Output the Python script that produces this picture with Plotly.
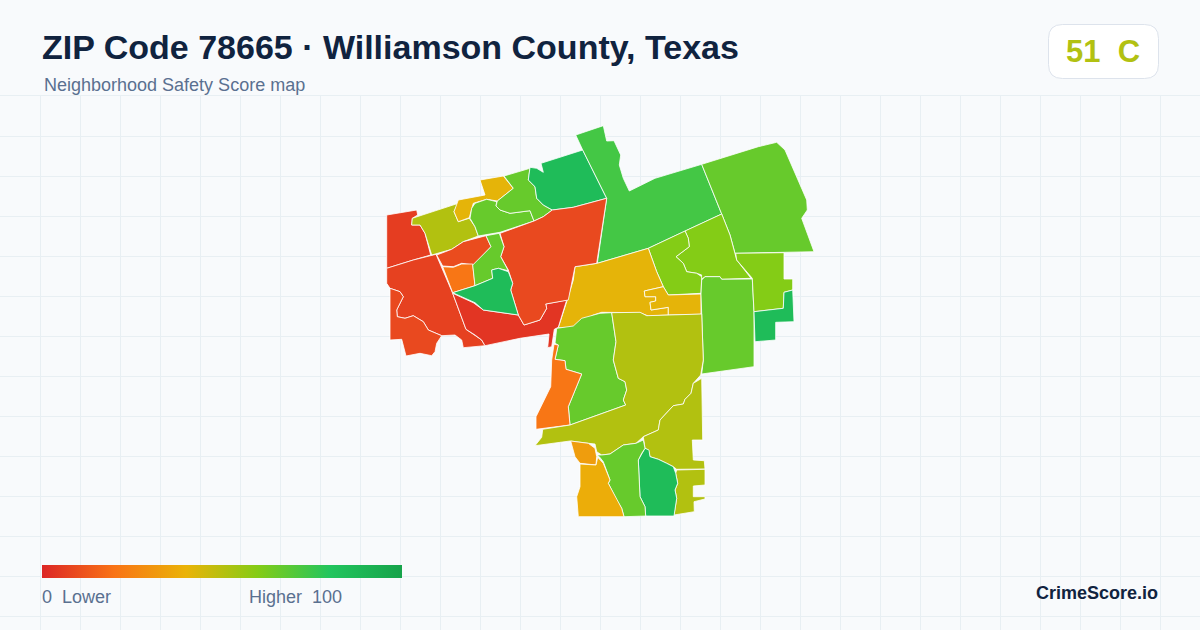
import plotly.graph_objects as go

W, H = 1200, 630
BG = "#f8fafc"
GRID = "#e8eff3"
INK = "#10233f"
MUTED = "#5a7090"

TITLE = "ZIP Code 78665 · Williamson County, Texas"
SUBTITLE = "Neighborhood Safety Score map"
BADGE_SCORE = "51  C"
BRAND = "CrimeScore.io"
LEGEND_LOW = "0  Lower"
LEGEND_HIGH = "Higher  100"

SCALE_STOPS = [0, 0.2, 0.4, 0.6, 0.8, 1]
SCALE_COLORS = ["#dc2626", "#f97316", "#eab308", "#84cc16", "#22c55e", "#16a34a"]

# Neighbourhood outlines (map units) and safety scores
NW_TOP = [(386.7,215),(416.7,210),(417.7,215),(412.3,218.3),(411.7,225),(420,225),(425,233.3),(430.7,255),(413.3,260),(386.7,268.3)]
W_MID = [(386.7,268.3),(413.3,260),(436,254.3),(452.7,293.3),(466,329.3),(475,335),(481.7,340),(485,345.7),(463.3,347.7),(461.7,340),(455,335),(441.7,335.7),(428.3,330),(423.3,321.7),(413.3,315.7),(405,318.3),(397.3,316.7),(396.7,310),(403.3,296.7),(400,291.7),(390,288.3),(386.7,283.3)]
W_LOW = [(390,288.3),(400,291.7),(403.3,296.7),(396.7,310),(397.3,316.7),(405,318.3),(413.3,315.7),(423.3,321.7),(428.3,330),(441.7,335.7),(436.7,343.3),(435,351.7),(431.7,355.7),(420,353.3),(406,356),(401.7,339.3),(390,340)]
NW_OLIVE = [(412.3,218.3),(458.3,203.3),(454,211.7),(458.3,221.7),(469.3,218.3),(475,226.7),(478.3,236),(463.3,241.7),(451.7,249.3),(431.7,255),(425,233.3),(420,225),(411.7,225)]
N_AMBER = [(480,180),(503.3,176),(513.3,188.3),(497.3,201),(486.7,199.3),(473.3,203.3),(469.3,217.7),(458.3,221.7),(454,211.7),(458.3,200),(485,195)]
N_LIME_A = [(475,203.3),(486.7,199.3),(496.7,201.7),(496,206),(500,210),(510,213.3),(530,210.7),(534,221),(500,232.3),(478.3,236),(475,226.7),(470,218.3),(471.7,208.3)]
N_LIME_B = [(504,176),(530,168.3),(528.3,180),(535,186.7),(536.7,198.3),(543.3,205),(552.3,210),(543.3,216.7),(534,221),(530,210.7),(510,213.3),(500,210),(496,206),(497.3,201),(513.3,188.3)]
N_GREEN = [(530,167.3),(536.7,168.3),(543.3,172.3),(541,163.3),(582.7,150),(606.7,198.3),(573.3,207.3),(552.3,210),(543.3,205),(536.7,198.3),(535,186.7),(528.3,180)]
N_BIG = [(575.7,135),(603.3,125.7),(606.7,141),(614,140.7),(620.7,155),(619.3,165),(623.3,178.3),(629.3,191),(655,178.3),(701.7,164.3),(721.7,214),(685,231),(648.3,248.3),(597.3,263.3),(606.7,198.3),(582.7,150)]
NE_BIG = [(701.7,164.3),(758.3,146.7),(776.7,142.3),(785,150),(806.7,200),(807.3,210),(801.7,218.3),(814,251.7),(735,253.3),(730,235),(721.7,214)]
E_LIME_A = [(685,231),(721.7,214),(730,235),(735,253.3),(736.7,260),(751,278.3),(721.7,279.3),(720,276.7),(705,276.7),(700.7,280),(701.7,275),(696.7,273.3),(686.7,271.7),(683.3,263.3),(676,256.7),(689.3,246.7),(688.3,238.3)]
E_LIME_B = [(648.3,248.3),(685,231),(688.3,238.3),(689.3,246.7),(676,256.7),(683.3,263.3),(686.7,271.7),(696.7,273.3),(701.7,276.7),(701,293.3),(668.3,295),(663.3,286.7),(656.7,271.7)]
C_AMBER_A = [(575,266.7),(597.3,263.3),(648.3,248.3),(656.7,271.7),(663.3,286.7),(644.3,291),(645,296.7),(655.7,296.7),(655.7,301),(650,302.3),(651,310),(668.3,307.3),(668.3,315),(648.3,316),(640,312.7),(611.7,312.7),(601.7,312.3),(593.3,315),(580,321.7),(571.7,327.7),(558.3,327.7),(566.7,301.7),(573.3,280)]
C_AMBER_B = [(663.3,286.7),(668.3,295),(701,294),(701,314.3),(668.3,315),(668.3,307.3),(651,310),(650,302.3),(655.7,301),(655.7,296.7),(645,296.7),(644.3,291)]
C_LIME = [(556.7,328.3),(573.3,326),(581.7,318.3),(600,313.3),(611.7,312.7),(616,341.7),(613.3,360),(618.3,378.3),(625,381.7),(626.7,390),(623.3,400),(625.7,405),(570,425),(568.3,406.7),(581.7,374),(566,369.3),(565,360.7),(555,359.3),(558.3,345),(555,343.3)]
C_ORANGE = [(554,344.3),(558.3,345),(555,359.3),(565,360.7),(566,369.3),(581.7,374),(568.3,406.7),(570,425),(536,429.3),(536,416.7),(550.7,386.7),(551.7,360)]
W_DARK = [(452.7,293.3),(473.3,302.7),(483.3,310),(518.3,315),(524,325),(540,320),(546.7,308.3),(545.7,304),(566.7,300),(558.3,327.3),(554.3,329.3),(551.7,346.7),(547.7,347.7),(549,334),(520,338.3),(485,345.7),(481.7,340),(475,335),(466,329.3)]
N_RED = [(500,233.3),(534,221),(543.3,216.7),(552.3,210),(573.3,207.3),(606.7,198.3),(596.7,263.3),(575,266.7),(568.3,300),(545.7,304),(546.7,308.3),(540,320),(524,325),(518.3,315),(510.7,290),(512.7,283.3),(508.3,270),(500.7,256.7),(504,246.7)]
W_REDORANGE = [(436.7,255),(451.7,249.3),(463.3,241.7),(486,235.7),(491,246.7),(473.3,265),(461.7,263.3),(453.3,266.7),(442.7,266)]
W_ORANGE = [(442.7,266.7),(453.3,267.3),(461.7,264),(472.7,264),(475,285.7),(452.7,292.7)]
W_STRIP = [(486,235.7),(499.3,233.3),(504,246.7),(500.7,256.7),(508.3,270.7),(498.3,268.3),(491.7,270),(492.7,278.3),(475,285.7),(472.7,265),(491,246.7)]
W_TRIANGLE = [(452.7,292.7),(475,285.7),(492.7,278.3),(491.7,270),(498.3,268.3),(508.3,271.7),(512.7,283.3),(510.7,290),(518.3,315),(483.3,310),(475,302.7)]
E_RECT = [(701.7,280),(705,276.7),(720,276.7),(721.7,279.3),(752.3,279),(754,311.7),(754,366.7),(701.7,374),(703.3,360),(701.7,315),(701,294)]
E_LIME_C = [(735.7,253.3),(784,252.7),(784,279),(792.7,279),(792.7,290),(784,292.3),(783.3,308.3),(754,311.7),(752.3,278.3),(736.7,260)]
E_GREEN = [(784,292.3),(792.7,290),(794,321.7),(775.7,322.3),(775.7,340),(755,341.7),(754,311.7),(783.3,308.3)]
C_OLIVE = [(611.7,312.7),(640,312.3),(646.7,315.7),(668.3,315),(701.7,314),(703.3,360),(700.7,375),(693.3,383.3),(691,393.3),(685,399.3),(683.3,404),(673.3,405.7),(660,420),(658.3,430),(643.3,436.7),(636,443.3),(623.3,445),(610,454),(601.7,455),(596.7,451.7),(595,444),(588.3,443.3),(570,441),(535,445.7),(541.7,437.3),(542.7,429.3),(570,425),(625.7,405),(623.3,400),(626.7,390),(625,381.7),(618.3,378.3),(613.3,360),(616,341.7)]
SE_OLIVE = [(701.7,378.3),(702.7,440),(692.3,440),(693.3,460),(704.3,460.7),(705,469),(676.7,469.3),(673.3,466.7),(666.7,463.3),(658.3,459.3),(650,456.7),(648.3,450),(645,448.3),(643.3,440),(643.3,436.7),(658.3,430),(660,420),(673.3,405.7),(683.3,404),(685,399.3),(691,393.3),(693.3,383.3)]
S_OLIVE = [(676.7,470),(705,469.3),(705,485),(693.3,486),(693.3,496.7),(705,496.7),(705,499),(694,501.7),(694.3,511.7),(674,515),(676.7,498.3),(675,490),(677.7,483.3),(675.7,473.3)]
S_GREEN = [(645,448.3),(649,450),(650,456.7),(658.3,459.3),(666.7,463.3),(673.3,466.7),(675.7,473.3),(677.7,483.3),(675,490),(676.7,498.3),(674,516),(645.7,516),(645,506.7),(640,496.7),(638.3,460),(641.7,453.3)]
S_LIME = [(596.7,455),(601.7,455),(610,454),(623.3,445),(636,443.3),(643.3,440),(645,448.3),(641.7,453.3),(638.3,460),(640,496.7),(645,506.7),(645.7,516),(624,516.7),(621.7,508.3),(616.7,500),(608.3,483.3),(610,480),(606,470),(603.3,461.7),(599.3,456.7)]
S_ORANGE = [(570.7,441),(588.3,443.3),(595,448.3),(596.7,456.7),(596,465),(580,463.3),(575,456.7)]
S_AMBER = [(580,464),(596,465),(597.7,457.3),(603.3,463.3),(606,470),(610,480),(608.3,483.3),(616.7,500),(621.7,508.3),(624,516.7),(578.3,516.7),(576.7,496.7),(580,486.7)]

ZONES = [NW_TOP, W_MID, W_LOW, NW_OLIVE, N_AMBER, N_LIME_A, N_LIME_B, N_GREEN, N_BIG, NE_BIG,
         E_LIME_A, E_LIME_B, C_AMBER_A, C_AMBER_B, C_LIME, C_ORANGE, W_DARK, N_RED, W_REDORANGE,
         W_ORANGE, W_STRIP, W_TRIANGLE, E_RECT, E_LIME_C, E_GREEN, C_OLIVE, SE_OLIVE, S_OLIVE,
         S_GREEN, S_LIME, S_ORANGE, S_AMBER]
SCORES = [6, 7, 9, 51, 41, 66, 66, 85, 73, 66,
          60, 60, 41, 41, 66, 21, 4, 9, 10,
          21, 66, 85, 66, 60, 85, 51, 51, 51,
          85, 66, 33, 38]

colorscale = [[s, c] for s, c in zip(SCALE_STOPS, SCALE_COLORS)]


def score_color(score):
    t = score / 100
    for (s0, c0), (s1, c1) in zip(colorscale, colorscale[1:]):
        if t <= s1:
            f = (t - s0) / (s1 - s0)
            a = [int(c0[i:i + 2], 16) for i in (1, 3, 5)]
            b = [int(c1[i:i + 2], 16) for i in (1, 3, 5)]
            return "rgb({},{},{})".format(*[round(u + (v - u) * f) for u, v in zip(a, b)])
    return SCALE_COLORS[-1]


def px(x):
    return x / W


def py(y):
    return 1 - y / H


fig = go.Figure()
for zone, score in zip(ZONES, SCORES):
    xs = [p[0] for p in zone] + [zone[0][0]]
    ys = [p[1] for p in zone] + [zone[0][1]]
    fig.add_trace(go.Scatter(
        x=xs, y=ys, mode="lines", fill="toself",
        fillcolor=score_color(score),
        line=dict(color="#ffffff", width=0.8),
        hoverinfo="text", text=f"Score {score}", showlegend=False,
    ))

fig.add_trace(go.Scatter(
    x=[None], y=[None], mode="markers", showlegend=False, hoverinfo="skip",
    marker=dict(
        color=[0], cmin=0, cmax=100, colorscale=colorscale, showscale=True,
        colorbar=dict(
            orientation="h", lenmode="pixels", len=360, thicknessmode="pixels", thickness=13,
            x=px(42), xanchor="left", y=py(578), yanchor="bottom", xpad=0, ypad=0,
            outlinewidth=0, borderwidth=0, showticklabels=False, ticks="",
        ),
    ),
))

# badge outline
bx0, bx1, by0, by1, r = 1048.5, 1158.5, 24.5, 78.5, 14
badge_path = (
    f"M {px(bx0+r)} {py(by0)} L {px(bx1-r)} {py(by0)} Q {px(bx1)} {py(by0)} {px(bx1)} {py(by0+r)} "
    f"L {px(bx1)} {py(by1-r)} Q {px(bx1)} {py(by1)} {px(bx1-r)} {py(by1)} "
    f"L {px(bx0+r)} {py(by1)} Q {px(bx0)} {py(by1)} {px(bx0)} {py(by1-r)} "
    f"L {px(bx0)} {py(by0+r)} Q {px(bx0)} {py(by0)} {px(bx0+r)} {py(by0)} Z"
)


def note(text, x, y, size, color, anchor="left", bold=False):
    return dict(
        text=f"<b>{text}</b>" if bold else text, x=px(x), y=py(y), xref="paper", yref="paper",
        xanchor=anchor, yanchor="middle", showarrow=False, borderpad=0,
        font=dict(family="Liberation Sans, Arial, sans-serif", size=size, color=color),
    )


fig.update_layout(
    width=W, height=H, autosize=False,
    margin=dict(l=0, r=0, t=0, b=0),
    paper_bgcolor=BG, plot_bgcolor=BG,
    xaxis=dict(range=[0, W], domain=[0, 1], tick0=0, dtick=40, showgrid=True, gridcolor=GRID,
               gridwidth=1, zeroline=False, showticklabels=False, ticks="", fixedrange=True,
               side="top", showline=True, linecolor=GRID, linewidth=1),
    yaxis=dict(range=[H, 96], domain=[0, 1 - 96 / H], tick0=96, dtick=40, showgrid=True, gridcolor=GRID,
               gridwidth=1, zeroline=False, showticklabels=False, ticks="", fixedrange=True,
               showline=True, linecolor=GRID, linewidth=1),
    shapes=[dict(type="path", xref="paper", yref="paper", path=badge_path,
                 fillcolor="#ffffff", line=dict(color="#dde3ec", width=1), layer="below")],
    annotations=[
        note(TITLE, 41, 47, 34, INK, bold=True),
        note(SUBTITLE, 43, 85, 18, MUTED),
        note(BADGE_SCORE, 1103, 51, 31, "#b2c112", anchor="center", bold=True),
        note(LEGEND_LOW, 41, 597, 18, MUTED),
        note(LEGEND_HIGH, 248, 597, 18, MUTED),
        note(BRAND, 1159, 593, 18, INK, anchor="right", bold=True),
    ],
)

fig.write_html("out.html", config=dict(displayModeBar=False),
               post_script="document.body.style.margin='0';document.documentElement.style.background='%s';" % BG)
